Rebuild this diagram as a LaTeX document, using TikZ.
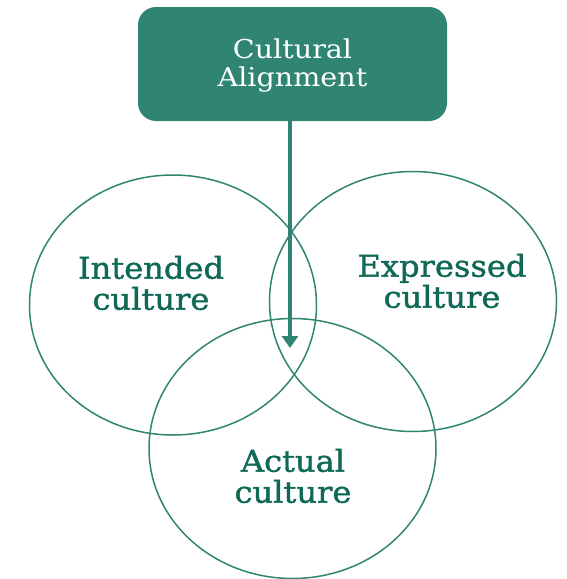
\documentclass[tikz,border=0pt]{standalone}
\usepackage{fontspec}
\setmainfont{DejaVu Serif}
\newfontfamily\labelfont[FakeStretch=1.1]{DejaVu Serif}
\newfontfamily\areafont[FakeStretch=1.07,FakeBold=1.3]{DejaVu Serif}
\usetikzlibrary{shapes.geometric,arrows.meta}

\definecolor{teal}{RGB}{47,133,113}
\definecolor{tealtext}{RGB}{16,105,85}

\begin{document}
\begin{tikzpicture}[x=1pt,y=-1pt,
  headbox/.style={draw=none, fill=teal, rounded corners=18pt,
    minimum width=309pt, minimum height=114pt, inner sep=0pt},
  headtext/.style={text=white, align=center, inner sep=0pt,
    font=\labelfont\fontsize{26}{28}\selectfont},
  area/.style={ellipse, draw=teal, line width=1.5pt, inner sep=0pt,
    minimum width=287pt, minimum height=260pt},
  areatext/.style={text=tealtext, align=center, inner sep=0pt,
    font=\areafont\fontsize{30}{31}\selectfont},
  flow/.style={draw=teal, line width=4.8pt,
    -{Triangle[width=16pt,length=12pt]}}
]
\useasboundingbox (0,0) rectangle (567,579);

% three overlapping culture areas
\node[area] (intended)  at (173,305)   {};
\node[area] (expressed) at (413,301.5) {};
\node[area] (actual)    at (292.5,448.5) {};

\node[areatext] (intendedlbl)  at (151,283) {Intended\\culture};
\node[areatext] (expressedlbl) at (442,281) {Expressed\\culture};
\node[areatext] (actuallbl)    at (293,476) {Actual\\culture};

% heading box
\node[headbox] (align) at (292.5,64) {};
\node[headtext] (alignlbl) at (292.5,66) {Cultural\\Alignment};

% arrow from the heading down into the overlap
\coordinate (tip) at (290,348);
\draw[flow] (align.south -| tip) -- (tip);
\end{tikzpicture}
\end{document}
